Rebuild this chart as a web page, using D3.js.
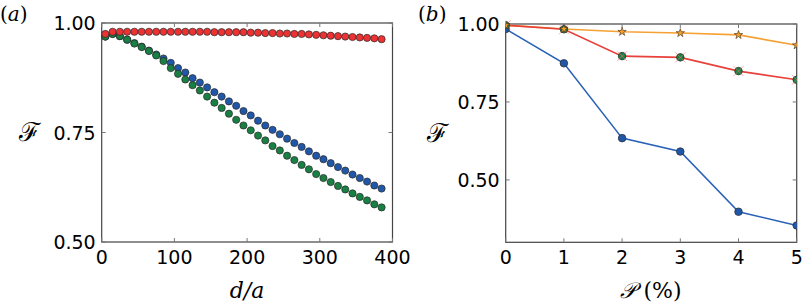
<!DOCTYPE html>
<html>
<head>
<meta charset="utf-8">
<script src="https://cdn.jsdelivr.net/npm/d3@7"></script>
<style>
  body { margin: 0; background: #fff; }
</style>
</head>
<body>
<script>
// panel (a): fidelity vs d/a
let dVals = [5, 15, 25, 35, 45, 55, 65, 75, 85, 95, 105, 115, 125, 135, 145, 155, 165, 175, 185,
  195, 205, 215, 225, 235, 245, 255, 265, 275, 285, 295, 305, 315, 325, 335, 345, 355, 365, 375, 385]

let redA = [0.975, 0.980, 0.980, 0.980, 0.980, 0.980, 0.980, 0.980, 0.980, 0.980, 0.980, 0.980, 0.980,
  0.980, 0.980, 0.979, 0.979, 0.979, 0.979, 0.979, 0.978, 0.978, 0.977, 0.977, 0.976, 0.976, 0.975,
  0.975, 0.974, 0.973, 0.972, 0.971, 0.970, 0.969, 0.968, 0.967, 0.966, 0.965, 0.963]

let blueA = [0.969, 0.975, 0.970, 0.962, 0.954, 0.946, 0.937, 0.928, 0.919, 0.909, 0.897, 0.887, 0.874,
  0.864, 0.853, 0.842, 0.832, 0.821, 0.811, 0.799, 0.789, 0.777, 0.766, 0.756, 0.746, 0.736, 0.726,
  0.717, 0.707, 0.697, 0.689, 0.680, 0.671, 0.663, 0.654, 0.646, 0.638, 0.629, 0.622]

let greenA = [0.969, 0.975, 0.970, 0.962, 0.953, 0.945, 0.936, 0.926, 0.913, 0.897, 0.884, 0.871, 0.858,
  0.846, 0.832, 0.818, 0.806, 0.793, 0.779, 0.766, 0.755, 0.743, 0.732, 0.719, 0.709, 0.697, 0.687,
  0.676, 0.666, 0.655, 0.646, 0.637, 0.628, 0.620, 0.611, 0.603, 0.595, 0.586, 0.579]

let xTicksA = [0, 100, 200, 300, 400]
let yTicksA = [0.5, 0.75, 1.0]

// panel (b): fidelity vs P (%)
let pVals = [0, 1, 2, 3, 4, 5]
let blueB = [0.984, 0.874, 0.634, 0.591, 0.398, 0.354]
let redB = [0.996, 0.983, 0.897, 0.893, 0.849, 0.821]
let greenB = [0.996, 0.983, 0.897, 0.893, 0.849, 0.821]
let orangeB = [0.996, 0.984, 0.975, 0.971, 0.965, 0.932]

let xTicksB = [0, 1, 2, 3, 4, 5]
let yTicksB = [0.5, 0.75, 1.0]

let sans = "'DejaVu Sans', sans-serif"
let serif = "'DejaVu Serif', serif"

let svg = d3.select('body').append('svg')
  .attr('width', 812).attr('height', 308)

let fmt = d3.format('.2f')

let frame = (g, x, y, xt, yt) => {
  let [x0, x1] = x.range(), [y1, y0] = y.range()
  let tick = 4
  g.append('rect').attr('x', x0).attr('y', y0).attr('width', x1 - x0).attr('height', y1 - y0)
    .attr('fill', 'none').attr('stroke', '#444').attr('stroke-width', 1.2)
  xt.forEach(t => {
    g.append('line').attr('x1', x(t)).attr('x2', x(t)).attr('y1', y1).attr('y2', y1 - tick)
      .attr('stroke', '#777')
    g.append('line').attr('x1', x(t)).attr('x2', x(t)).attr('y1', y0).attr('y2', y0 + tick)
      .attr('stroke', '#777')
  })
  yt.forEach(t => {
    g.append('line').attr('x1', x0).attr('x2', x0 + tick).attr('y1', y(t)).attr('y2', y(t))
      .attr('stroke', '#777')
    g.append('line').attr('x1', x1).attr('x2', x1 - tick).attr('y1', y(t)).attr('y2', y(t))
      .attr('stroke', '#777')
  })
  g.selectAll('.xl').data(xt).enter().append('text')
    .style('font-family', sans)
    .attr('x', d => x(d)).attr('y', y1 + 22)
    .attr('text-anchor', 'middle').attr('font-size', 19).text(d => d)
  g.selectAll('.yl').data(yt).enter().append('text')
    .style('font-family', sans)
    .attr('x', x0 - 6).attr('y', d => y(d) + 7)
    .attr('text-anchor', 'end').attr('font-size', 19).text(d => fmt(d))
}

// ---- panel (a)
let xa = d3.scaleLinear().domain([0, 400]).range([101.7, 392.5])
let ya = d3.scaleLinear().domain([0.5, 1.0]).range([242, 23])
let ga = svg.append('g')
frame(ga, xa, ya, xTicksA, yTicksA)

let dotsA = (vals, fill) => {
  ga.append('g').selectAll('circle').data(vals).enter().append('circle')
    .attr('cx', (d, i) => xa(dVals[i])).attr('cy', d => ya(d)).attr('r', 3.6)
    .attr('fill', fill).attr('stroke', '#2a2a2a').attr('stroke-width', 0.7)
}
dotsA(blueA, '#2157a8')
dotsA(greenA, '#198043')
dotsA(redA, '#ec3232')

ga.append('text').style('font-family', serif).attr('x', 0).attr('y', 21).attr('font-size', 20)
  .html('(<tspan font-style="italic">a</tspan>)')
ga.append('text').style('font-family', serif).attr('x', 29).attr('y', 141).attr('text-anchor', 'middle')
  .attr('font-size', 26).text('ℱ')
ga.append('text').style('font-family', serif).attr('x', 247).attr('y', 298).attr('text-anchor', 'middle')
  .attr('font-style', 'italic').attr('font-size', 22).text('d/a')

// ---- panel (b)
let xb = d3.scaleLinear().domain([0, 5]).range([505.7, 796.7])
let yb = d3.scaleLinear().domain([0.3, 1.0]).range([242.3, 24])
let gb = svg.append('g')
frame(gb, xb, yb, xTicksB, yTicksB)

let line = vals => d3.line().x((d, i) => xb(pVals[i])).y(d => yb(d))(vals)
gb.append('clipPath').attr('id', 'cb').append('rect')
  .attr('x', 505.7).attr('y', 18).attr('width', 291).attr('height', 230)
let plot = gb.append('g').attr('clip-path', 'url(#cb)')

plot.append('path').attr('d', line(orangeB)).attr('fill', 'none').attr('stroke', '#f6a133').attr('stroke-width', 1.6)
plot.append('path').attr('d', line(redB)).attr('fill', 'none').attr('stroke', '#e8413a').attr('stroke-width', 1.6)
plot.append('path').attr('d', line(blueB)).attr('fill', 'none').attr('stroke', '#2a62b8').attr('stroke-width', 1.6)

plot.append('g').selectAll('circle').data(blueB).enter().append('circle')
  .attr('cx', (d, i) => xb(pVals[i])).attr('cy', d => yb(d)).attr('r', 3.8)
  .attr('fill', '#2157a8').attr('stroke', '#2a2a2a').attr('stroke-width', 0.7)
plot.append('g').selectAll('circle').data(greenB).enter().append('circle')
  .attr('cx', (d, i) => xb(pVals[i])).attr('cy', d => yb(d)).attr('r', 3.8)
  .attr('fill', '#198043').attr('stroke', '#2a2a2a').attr('stroke-width', 0.7)
plot.append('g').selectAll('path').data(redB).enter().append('path')
  .attr('transform', (d, i) => `translate(${xb(pVals[i])},${yb(d)})`)
  .attr('d', 'M-5,-5L5,5M-5,5L5,-5')
  .attr('stroke', '#ff7070').attr('stroke-opacity', 0.55).attr('stroke-width', 1)
plot.append('g').selectAll('path').data(orangeB).enter().append('path')
  .attr('transform', (d, i) => `translate(${xb(pVals[i])},${yb(d)})`)
  .attr('d', d3.symbol().type(d3.symbolStar).size(22))
  .attr('fill', '#f5a030').attr('stroke', '#3a2a10').attr('stroke-width', 0.6)

gb.append('text').style('font-family', serif).attr('x', 418).attr('y', 21).attr('font-size', 20)
  .html('(<tspan font-style="italic">b</tspan>)')
gb.append('text').style('font-family', serif).attr('x', 437).attr('y', 142).attr('text-anchor', 'middle')
  .attr('font-size', 26).text('ℱ')
gb.append('text').style('font-family', serif).attr('x', 651).attr('y', 298).attr('text-anchor', 'middle')
  .attr('font-size', 22)
  .html('<tspan font-style="italic">𝒫</tspan> (%)')
</script>
</body>
</html>
